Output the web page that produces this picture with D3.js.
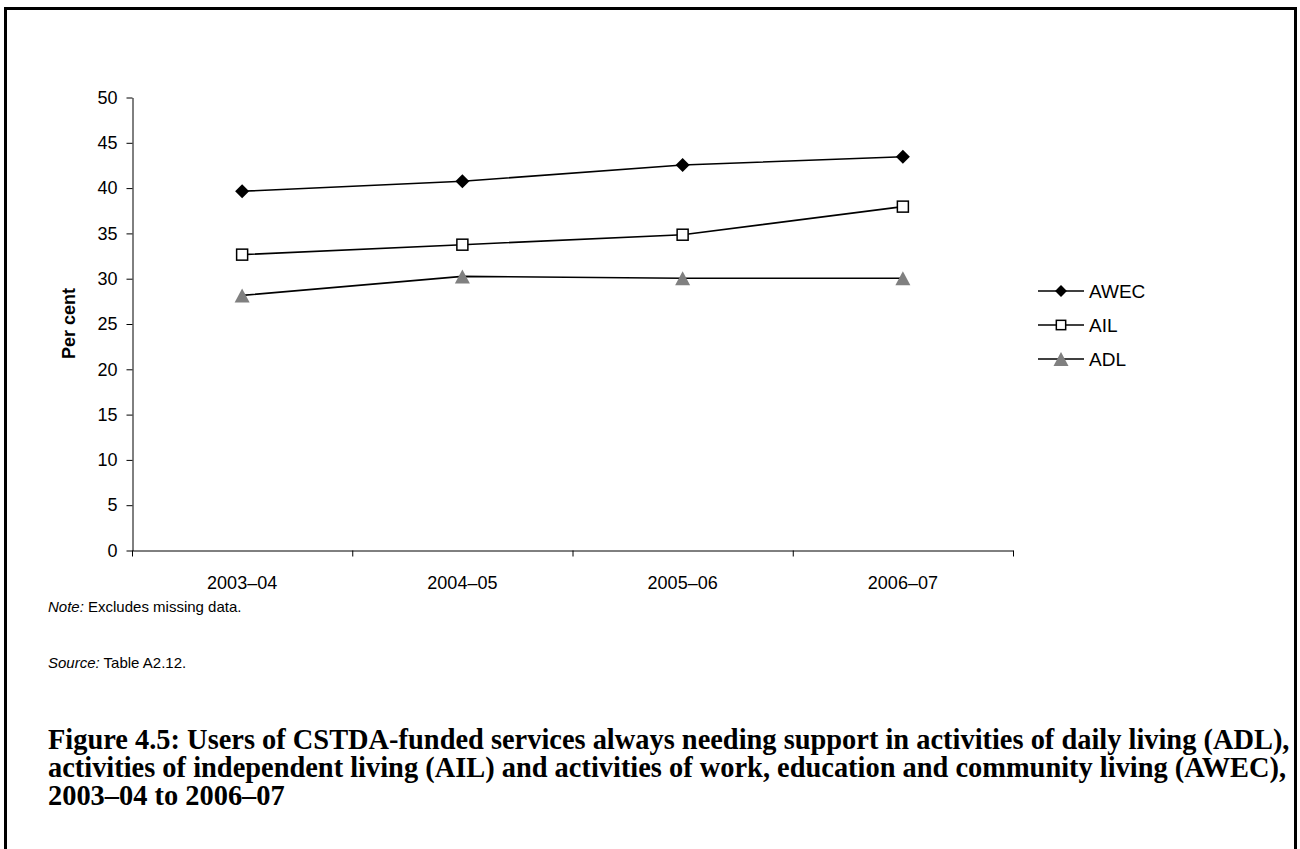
<!DOCTYPE html>
<html>
<head>
<meta charset="utf-8">
<script src="https://cdn.jsdelivr.net/npm/d3@7"></script>
<style>
  body { margin: 0; background: #fff; }
  svg { display: block; }
  .axis path, .axis line { stroke: #000; stroke-width: 1; }
  .axis text { font-family: 'Liberation Sans', Arial, sans-serif; font-size: 18px; fill: #000; }
</style>
</head>
<body>
<div class="chart"></div>
<script>
const width = 1300;
const height = 849;

const categories = ['2003–04', '2004–05', '2005–06', '2006–07'];
const awec = [39.6, 40.7, 42.5, 43.4];
const ail = [32.6, 33.7, 34.8, 37.9];
const adl = [28.1, 30.2, 30.0, 30.0];
const seriesNames = ['AWEC', 'AIL', 'ADL'];
const yTicks = [0, 5, 10, 15, 20, 25, 30, 35, 40, 45, 50];

const captionLines = [
  'Figure 4.5: Users of CSTDA-funded services always needing support in activities of daily living (ADL),',
  'activities of independent living (AIL) and activities of work, education and community living (AWEC),',
  '2003–04 to 2006–07'
];

const margin = { left: 132, right: 287, top: 97, bottom: 299 };
const font = "'Liberation Sans', Arial, sans-serif";

const svg = d3.select('.chart')
  .append('svg')
    .attr('width', width)
    .attr('height', height);

// outer frame
svg.append('rect')
  .attr('x', 5.5)
  .attr('y', 8.5)
  .attr('width', 1290)
  .attr('height', 860)
  .attr('fill', 'none')
  .attr('stroke', '#000')
  .attr('stroke-width', 3);

const x = d3.scaleBand()
  .domain(categories)
  .range([margin.left, width - margin.right])
  .padding(0);

const y = d3.scaleLinear()
  .domain([0, 50])
  .range([height - margin.bottom, margin.top]);

const cx = d => x(d) + x.bandwidth() / 2;

// y axis
svg.append('g')
  .attr('class', 'axis')
  .attr('transform', `translate(${margin.left + 0.5},0.5)`)
  .call(d3.axisLeft(y).tickValues(yTicks).tickSize(6).tickPadding(9).tickSizeOuter(0));

// x axis (labels only, ticks on band edges)
const xAxis = svg.append('g')
  .attr('class', 'axis')
  .attr('transform', `translate(0,${y(0) + 0.5})`)
  .call(d3.axisBottom(x).tickSize(0).tickPadding(26).tickSizeOuter(0));

const edges = categories.map(d => x(d)).concat([x(categories[categories.length - 1]) + x.bandwidth()]);
xAxis.selectAll('.edge')
  .data(edges)
  .join('line')
    .attr('class', 'edge')
    .attr('x1', d => d + 0.5)
    .attr('x2', d => d + 0.5)
    .attr('y1', 0)
    .attr('y2', 6);

// y label
svg.append('text')
  .attr('transform', `translate(75,${(y(0) + y(50)) / 2}) rotate(-90)`)
  .attr('text-anchor', 'middle')
  .style('font-family', font)
  .style('font-size', '18px')
  .style('font-weight', 'bold')
  .text('Per cent');

const series = [awec, ail, adl];

const line = d3.line()
  .x((d, i) => cx(categories[i]))
  .y(d => y(d));

svg.selectAll('.series')
  .data(series)
  .join('path')
    .attr('class', 'series')
    .attr('d', d => line(d))
    .attr('fill', 'none')
    .attr('stroke', '#000')
    .attr('stroke-width', 1.6);

function marker(g, k, s) {
  if (k === 0) {
    g.append('path')
      .attr('d', `M0,${-7 * s}L${7 * s},0L0,${7 * s}L${-7 * s},0Z`)
      .attr('fill', '#000');
  } else if (k === 1) {
    g.append('rect')
      .attr('x', -5.5 * s)
      .attr('y', -5.5 * s)
      .attr('width', 11 * s)
      .attr('height', 11 * s)
      .attr('fill', '#fff')
      .attr('stroke', '#000')
      .attr('stroke-width', 1.5);
  } else {
    g.append('path')
      .attr('d', `M0,${-7 * s}L${7.5 * s},${7 * s}L${-7.5 * s},${7 * s}Z`)
      .attr('fill', '#808080');
  }
}

series.forEach((vals, k) => {
  vals.forEach((v, i) => {
    const g = svg.append('g')
      .attr('transform', `translate(${cx(categories[i])},${y(v)})`);
    marker(g, k, 1);
  });
});

// legend
const legend = svg.append('g')
  .attr('transform', 'translate(1038,291)');

seriesNames.forEach((name, k) => {
  const row = legend.append('g')
    .attr('transform', `translate(0,${k * 34})`);
  row.append('line')
    .attr('x1', 0)
    .attr('x2', 46)
    .attr('stroke', '#000')
    .attr('stroke-width', 1.6);
  const m = row.append('g').attr('transform', 'translate(23,0)');
  marker(m, k, k === 2 ? 1 : 0.85);
  row.append('text')
    .attr('x', 51)
    .attr('dy', '0.35em')
    .style('font-family', font)
    .style('font-size', '19px')
    .text(name);
});

// notes
const note = svg.append('text')
  .attr('x', 48)
  .attr('y', 612)
  .style('font-family', font)
  .style('font-size', '15px');
note.append('tspan').style('font-style', 'italic').text('Note:');
note.append('tspan').text(' Excludes missing data.');

const source = svg.append('text')
  .attr('x', 48)
  .attr('y', 668)
  .style('font-family', font)
  .style('font-size', '15px');
source.append('tspan').style('font-style', 'italic').text('Source:');
source.append('tspan').text(' Table A2.12.');

// caption
const caption = svg.append('g');
captionLines.forEach((t, i) => {
  caption.append('text')
    .attr('x', 48)
    .attr('y', 749 + i * 28)
    .style('font-family', "'Liberation Serif', 'DejaVu Serif', serif")
    .style('font-size', '20px')
    .style('font-weight', 'bold')
    .text(t);
});
// fit the first line to the page width
const w0 = caption.select('text').node().getComputedTextLength();
const fs = 20 * 1242 / w0;
caption.selectAll('text').style('font-size', `${fs}px`);
</script>
</body>
</html>
